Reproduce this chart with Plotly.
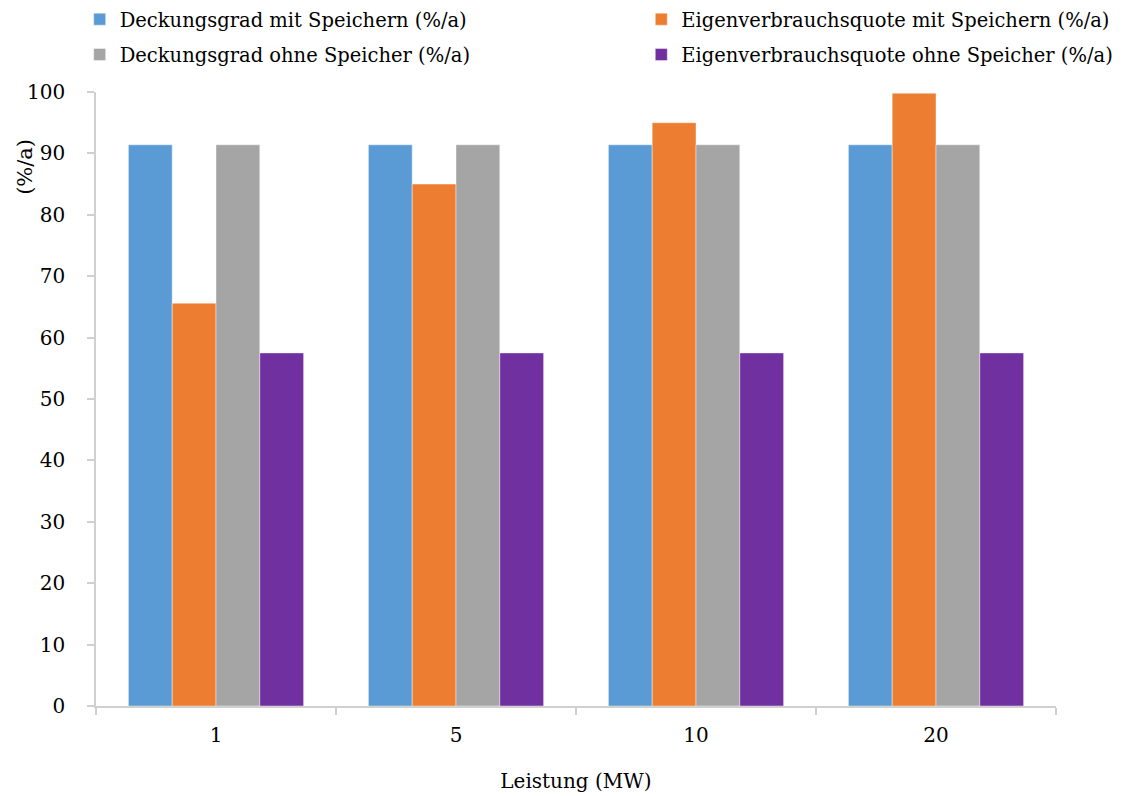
import plotly.graph_objects as go

categories = ["1", "5", "10", "20"]
deckung_mit = [91.4, 91.4, 91.4, 91.4]
eigen_mit = [65.6, 85.0, 95.0, 99.8]
deckung_ohne = [91.4, 91.4, 91.4, 91.4]
eigen_ohne = [57.5, 57.5, 57.5, 57.5]

# (name, values, colour, legend column)
series = [
    ("Deckungsgrad mit Speichern (%/a)", deckung_mit, "#5B9BD5", "legend"),
    ("Eigenverbrauchsquote mit Speichern (%/a)", eigen_mit, "#ED7D31", "legend2"),
    ("Deckungsgrad ohne Speicher (%/a)", deckung_ohne, "#A5A5A5", "legend"),
    ("Eigenverbrauchsquote ohne Speicher (%/a)", eigen_ohne, "#7030A0", "legend2"),
]

FONT = "DejaVu Serif"

fig = go.Figure()
for i, (name, vals, color, leg) in enumerate(series):
    fig.add_trace(go.Bar(
        x=categories, y=vals, name=name, legend=leg, legendgroup=f"g{i}",
        marker=dict(color=color, line=dict(color="rgba(255,255,255,0.6)", width=0.7)),
    ))

legend_common = dict(
    orientation="v", yref="container", y=1.0, yanchor="top", itemwidth=30,
    font=dict(family=FONT, size=19.5), traceorder="grouped", tracegroupgap=7,
    bgcolor="rgba(0,0,0,0)",
)

fig.update_layout(
    width=1145, height=796,
    margin=dict(l=96, r=89, t=92, b=90),
    paper_bgcolor="white", plot_bgcolor="white",
    font=dict(family=FONT, size=20, color="#000000"),
    barmode="group", bargap=0.27, bargroupgap=0,
    legend=dict(x=-0.017, xanchor="left", **legend_common),
    legend2=dict(x=0.568, xanchor="left", **legend_common),
    xaxis=dict(
        type="category", showgrid=False, automargin=False,
        showline=True, linecolor="#D0D0D0", linewidth=1.5,
        ticks="outside", tickson="boundaries", ticklen=7, tickcolor="#D0D0D0", tickwidth=1.5,
        ticklabelstandoff=10,
        title=dict(text="Leistung (MW)", font=dict(family=FONT, size=20), standoff=28),
        tickfont=dict(family=FONT, size=20),
    ),
    yaxis=dict(
        range=[0, 100], dtick=10, showgrid=False, zeroline=False, automargin=False,
        showline=True, linecolor="#D0D0D0", linewidth=1.5,
        ticks="outside", ticklen=7, tickcolor="#D0D0D0", tickwidth=1.5,
        ticklabelstandoff=18,
        tickfont=dict(family=FONT, size=20),
    ),
    annotations=[dict(
        text="(%/a)", textangle=-90, showarrow=False,
        xref="paper", yref="paper", x=-0.074, y=0.878,
        xanchor="center", yanchor="middle",
        font=dict(family=FONT, size=21),
    )],
)

fig.write_html("out.html")
